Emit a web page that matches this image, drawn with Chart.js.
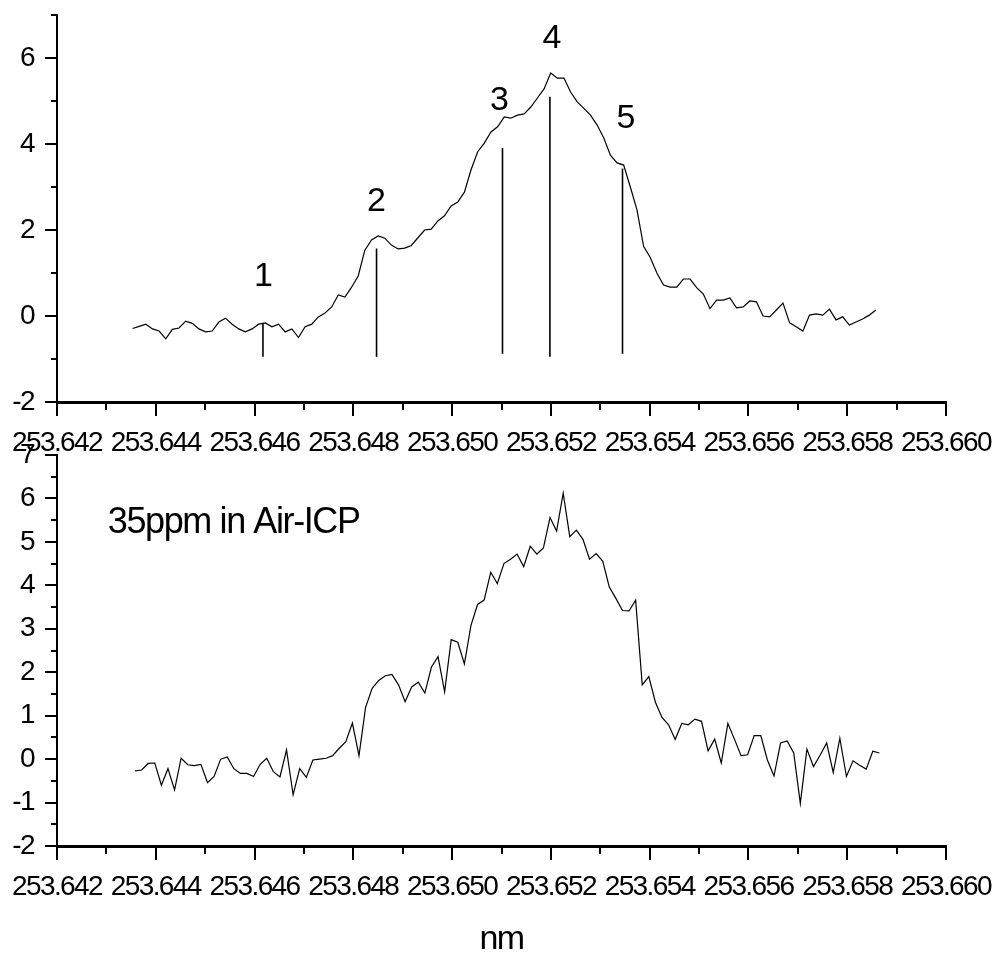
<!DOCTYPE html>
<html>
<head>
<meta charset="utf-8">
<script src="https://cdn.jsdelivr.net/npm/chart.js@4.4.1/dist/chart.umd.min.js"></script>
<style>
  html, body { margin: 0; padding: 0; background: #fff; }
  #wrap { position: relative; width: 1000px; height: 960px; overflow: hidden; }
  canvas { position: absolute; left: 0; }
  #topChart { top: 0; }
  #bottomChart { top: 440px; }
</style>
</head>
<body>
<div id="wrap">
  <canvas id="topChart" width="1000" height="460"></canvas>
  <canvas id="bottomChart" width="1000" height="520"></canvas>
</div>
<script>
// x axis (nm)
const X_MIN = 253.642;
const X_MAX = 253.660;
const xMajorTicks = [253.642, 253.644, 253.646, 253.648, 253.650, 253.652, 253.654, 253.656, 253.658, 253.660];
const xMinorTicks = [253.643, 253.645, 253.647, 253.649, 253.651, 253.653, 253.655, 253.657, 253.659];

// y axes
const topYMajorTicks = [-2, 0, 2, 4, 6];
const topYMinorTicks = [-1, 1, 3, 5, 7];
const bottomYMajorTicks = [-2, -1, 0, 1, 2, 3, 4, 5, 6, 7];
const bottomYMinorTicks = [-1.5, -0.5, 0.5, 1.5, 2.5, 3.5, 4.5, 5.5, 6.5];

// sampling grid of each spectrum (nm)
const TOP_X_START = 253.64353;
const TOP_X_STEP = 0.00013438;
const BOTTOM_X_START = 253.64358;
const BOTTOM_X_STEP = 0.00013337;

// upper spectrum (smoothed)
const topValues = [
  -0.29, -0.24, -0.19, -0.30, -0.35, -0.53, -0.31, -0.28, -0.12, -0.17,
  -0.30, -0.37, -0.35, -0.14, -0.05, -0.19, -0.30, -0.37, -0.30, -0.19,
  -0.16, -0.25, -0.19, -0.37, -0.30, -0.50, -0.25, -0.19, -0.02, 0.07,
  0.21, 0.49, 0.44, 0.67, 0.93, 1.53, 1.77, 1.86, 1.81, 1.65,
  1.56, 1.58, 1.64, 1.82, 2.00, 2.02, 2.21, 2.33, 2.56, 2.65,
  2.88, 3.40, 3.82, 4.02, 4.28, 4.40, 4.63, 4.60, 4.67, 4.70,
  4.86, 5.07, 5.28, 5.65, 5.53, 5.53, 5.21, 4.98, 4.83, 4.67,
  4.44, 4.14, 3.74, 3.56, 3.51, 3.00, 2.47, 1.62, 1.36, 1.00,
  0.72, 0.67, 0.67, 0.86, 0.86, 0.66, 0.51, 0.17, 0.37, 0.37,
  0.42, 0.19, 0.21, 0.35, 0.33, 0.00, -0.02, 0.14, 0.30, -0.16,
  -0.25, -0.35, 0.02, 0.05, 0.02, 0.16, -0.09, -0.02, -0.21, -0.14,
  -0.07, 0.02, 0.14
];

// lower spectrum (raw, 35ppm in Air-ICP)
const bottomValues = [
  -0.27, -0.25, -0.10, -0.09, -0.60, -0.22, -0.71, 0.02, -0.13, -0.15,
  -0.12, -0.54, -0.40, 0.00, 0.05, -0.22, -0.33, -0.33, -0.40, -0.12,
  0.02, -0.29, -0.41, 0.21, -0.82, -0.22, -0.42, -0.02, 0.00, 0.02,
  0.08, 0.25, 0.40, 0.83, 0.08, 1.19, 1.63, 1.81, 1.92, 1.95,
  1.71, 1.32, 1.66, 1.77, 1.52, 2.12, 2.36, 1.55, 2.75, 2.69,
  2.19, 3.08, 3.56, 3.66, 4.30, 4.04, 4.50, 4.60, 4.72, 4.43,
  4.90, 4.72, 4.86, 5.56, 5.25, 6.12, 5.12, 5.27, 5.06, 4.60,
  4.73, 4.56, 3.96, 3.70, 3.42, 3.41, 3.66, 1.71, 1.90, 1.31,
  0.96, 0.79, 0.45, 0.82, 0.79, 0.92, 0.87, 0.19, 0.46, -0.09,
  0.82, 0.46, 0.08, 0.10, 0.54, 0.54, -0.02, -0.39, 0.37, 0.42,
  0.14, -1.02, 0.23, -0.17, 0.09, 0.37, -0.31, 0.48, -0.40, -0.04,
  -0.14, -0.23, 0.18, 0.14
];

// numbered peak markers on the upper panel
const peakLabels = ['1', '2', '3', '4', '5'];
const peakNm = [253.64617, 253.64847, 253.65102, 253.65198, 253.65345];
const peakLineTop = [-0.16, 1.57, 3.91, 5.10, 3.43];
const peakLineBottom = [-0.95, -0.95, -0.88, -0.95, -0.88];
const peakLabelNm = [253.64618, 253.64847, 253.65096, 253.65202, 253.65352];
const peakLabelY = [0.91, 2.66, 5.02, 6.46, 4.60];

const sampleText = '35ppm in Air-ICP';
const sampleTextNm = 253.64303;
const sampleTextY = 5.43;

const FONT = '"Liberation Sans", Arial, Helvetica, sans-serif';
Chart.defaults.font.family = FONT;
Chart.defaults.color = '#000';

function toPoints(values, start, step) {
  return values.map((v, i) => ({ x: start + i * step, y: v }));
}

function tickList(major, minor) {
  return major.map((v) => ({ value: v, major: true }))
    .concat(minor.map((v) => ({ value: v, major: false })))
    .sort((a, b) => a.value - b.value);
}

// the original uses a tight, condensed-looking text setting
const tightTextPlugin = {
  id: 'tightText',
  beforeDraw(chart) {
    chart.ctx.letterSpacing = '-1.6px';
  },
};

const tickMarksPlugin = {
  id: 'tickMarks',
  afterDraw(chart) {
    const { ctx, chartArea: area, scales: { x, y } } = chart;
    ctx.save();
    ctx.strokeStyle = '#000';
    ctx.lineWidth = 2;
    ctx.beginPath();
    x.ticks.forEach((t) => {
      const px = Math.round(x.getPixelForValue(t.value));
      ctx.moveTo(px, area.bottom);
      ctx.lineTo(px, area.bottom + (t.major ? 14 : 8));
    });
    y.ticks.forEach((t) => {
      const py = Math.round(y.getPixelForValue(t.value));
      ctx.moveTo(area.left, py);
      ctx.lineTo(area.left - (t.major ? 12 : 6), py);
    });
    ctx.stroke();
    ctx.restore();
  },
};

const peakTextPlugin = {
  id: 'peakText',
  afterDatasetsDraw(chart) {
    const { ctx, scales: { x, y } } = chart;
    ctx.save();
    ctx.fillStyle = '#000';
    ctx.font = `34px ${FONT}`;
    ctx.letterSpacing = '0px';
    ctx.textAlign = 'center';
    ctx.textBaseline = 'middle';
    peakLabels.forEach((label, i) => {
      ctx.fillText(label, x.getPixelForValue(peakLabelNm[i]), y.getPixelForValue(peakLabelY[i]));
    });
    ctx.restore();
  },
};

const sampleTextPlugin = {
  id: 'sampleText',
  afterDatasetsDraw(chart) {
    const { ctx, scales: { x, y } } = chart;
    ctx.save();
    ctx.fillStyle = '#000';
    ctx.font = `36px ${FONT}`;
    ctx.letterSpacing = '-1.4px';
    ctx.textAlign = 'left';
    ctx.textBaseline = 'middle';
    ctx.fillText(sampleText, x.getPixelForValue(sampleTextNm), y.getPixelForValue(sampleTextY));
    ctx.restore();
  },
};

function axisOptions(yMin, yMax, yMajor, yMinor, xHeight, withTitle) {
  return {
    x: {
      type: 'linear',
      min: X_MIN,
      max: X_MAX,
      afterBuildTicks: (scale) => { scale.ticks = tickList(xMajorTicks, xMinorTicks); },
      afterFit: (scale) => {
        scale.height = xHeight;
        scale.paddingLeft = 0;
        scale.paddingRight = 0;
      },
      grid: { display: false },
      border: { display: true, width: 3, color: '#000' },
      ticks: {
        autoSkip: false,
        maxRotation: 0,
        padding: 16,
        font: { size: 28 },
        callback: (value, index, ticks) => (ticks[index].major ? value.toFixed(3) : ''),
      },
      title: {
        display: withTitle,
        text: 'nm',
        font: { size: 34 },
        padding: { top: 0, bottom: 0 },
      },
    },
    y: {
      type: 'linear',
      min: yMin,
      max: yMax,
      afterBuildTicks: (scale) => { scale.ticks = tickList(yMajor, yMinor); },
      afterFit: (scale) => {
        scale.width = 57;
        scale.paddingTop = 0;
        scale.paddingBottom = 0;
      },
      grid: { display: false },
      border: { display: true, width: 2, color: '#000' },
      ticks: {
        autoSkip: false,
        padding: 15,
        font: { size: 28 },
        callback: (value, index, ticks) => (ticks[index].major ? String(value) : ''),
      },
    },
  };
}

const lineStyle = { borderColor: '#000', borderWidth: 1.2, pointRadius: 0, tension: 0, fill: false };

const markerDatasets = peakNm.map((nm, i) => ({
  data: [{ x: nm, y: peakLineBottom[i] }, { x: nm, y: peakLineTop[i] }],
  borderColor: '#000',
  borderWidth: 1.6,
  pointRadius: 0,
}));

new Chart(document.getElementById('topChart'), {
  type: 'line',
  data: {
    datasets: [
      { data: toPoints(topValues, TOP_X_START, TOP_X_STEP), ...lineStyle },
      ...markerDatasets,
    ],
  },
  plugins: [tightTextPlugin, tickMarksPlugin, peakTextPlugin],
  options: {
    responsive: false,
    animation: false,
    events: [],
    layout: { padding: { top: 15, right: 54, left: 0, bottom: 0 } },
    plugins: { legend: { display: false }, tooltip: { enabled: false } },
    scales: axisOptions(-2, 7, topYMajorTicks, topYMinorTicks, 58, false),
  },
});

new Chart(document.getElementById('bottomChart'), {
  type: 'line',
  data: {
    datasets: [
      { data: toPoints(bottomValues, BOTTOM_X_START, BOTTOM_X_STEP), ...lineStyle },
    ],
  },
  plugins: [tightTextPlugin, tickMarksPlugin, sampleTextPlugin],
  options: {
    responsive: false,
    animation: false,
    events: [],
    layout: { padding: { top: 15, right: 54, left: 0, bottom: 0 } },
    plugins: { legend: { display: false }, tooltip: { enabled: false } },
    scales: axisOptions(-2, 7, bottomYMajorTicks, bottomYMinorTicks, 114, true),
  },
});
</script>
</body>
</html>
